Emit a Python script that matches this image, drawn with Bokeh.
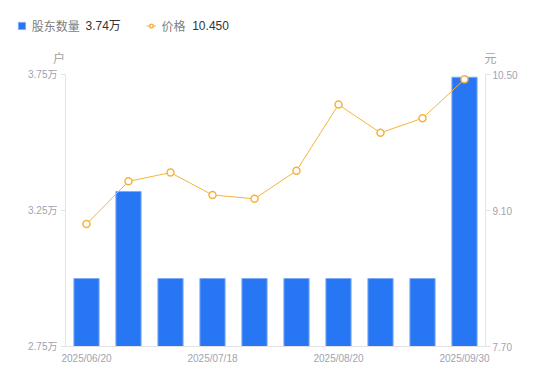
from bokeh.plotting import figure
from bokeh.models import (Range1d, LinearAxis, FixedTicker, Legend, LegendItem, Label, ColumnDataSource)
from bokeh.embed import file_html
from bokeh.resources import INLINE

# ---- data ----
holders = [3.00, 3.32, 3.00, 3.00, 3.00, 3.00, 3.00, 3.00, 3.00, 3.74]   # 万户
price = [8.96, 9.40, 9.49, 9.26, 9.22, 9.51, 10.19, 9.90, 10.05, 10.45]   # 元
x_tick_labels = ["2025/06/20", "2025/07/18", "2025/08/20", "2025/09/30"]
x_tick_index = [0, 3, 6, 9]
left_ticks = [2.75, 3.25, 3.75]
left_tick_labels = ["2.75万", "3.25万", "3.75万"]
right_ticks = [7.70, 9.10, 10.50]
right_tick_labels = ["7.70", "9.10", "10.50"]
legend_names = ["股东数量", "价格"]
legend_values = ["3.74万", "10.450"]
units = ["户", "元"]

FONT = "Liberation Sans, Noto Sans CJK SC"
TICK_COLOR = "#a0a3b0"
AXIS_COLOR = "#e3e3e6"
BAR_COLOR = "#2777f5"
LINE_COLOR = "#f6b33c"

n = len(holders)
idx = list(range(n))
src = ColumnDataSource(dict(x=idx, h=holders, p=price))

# canvas and plotting area (pixels)
W, H = 542, 373
PL, PR, PT, PB = 65, 485, 74, 346
xu = (PR - PL) / n                      # px per category
ly0, ly1 = left_ticks[0], left_ticks[-1]
ry0, ry1 = right_ticks[0], right_ticks[-1]
lpx = (PB - PT) / (ly1 - ly0)
rpx = (PB - PT) / (ry1 - ry0)

x_range = Range1d(-0.5 - PL / xu, n - 0.5 + (W - PR) / xu)
y_range = Range1d(ly0 - (H - PB) / lpx, ly1 + PT / lpx)
p = figure(width=W, height=H, min_border=0, x_range=x_range, y_range=y_range,
           output_backend="svg", toolbar_location=None, x_axis_location=None, y_axis_location=None)
p.outline_line_color = None
p.xgrid.visible = False
p.ygrid.visible = False
p.extra_y_ranges = {"price": Range1d(ry0 - (H - PB) / rpx, ry1 + PT / rpx)}

bars = p.vbar(x="x", top="h", bottom=ly0, width=0.6, source=src,
              fill_color=BAR_COLOR, line_color="#7fabf8", line_width=1)
line = p.line(x="x", y="p", source=src, y_range_name="price", line_color=LINE_COLOR, line_width=1)
pts = p.scatter(x="x", y="p", source=src, y_range_name="price", size=7, marker="circle",
                fill_color="white", line_color=LINE_COLOR, line_width=1.5)

def style(ax):
    ax.axis_line_color = AXIS_COLOR
    ax.major_tick_line_color = AXIS_COLOR
    ax.minor_tick_line_color = None
    ax.major_label_text_font = FONT
    ax.major_label_text_font_size = "10px"
    ax.major_label_text_color = TICK_COLOR

left = LinearAxis(ticker=FixedTicker(ticks=left_ticks), fixed_location=-0.5, bounds=(ly0, ly1),
                  major_label_overrides={t: l for t, l in zip(left_ticks, left_tick_labels)})
style(left)
left.major_tick_out = 5
left.major_tick_in = 0
left.major_label_standoff = 3
p.add_layout(left, "left")

right = LinearAxis(y_range_name="price", ticker=FixedTicker(ticks=right_ticks),
                   fixed_location=n - 0.5, bounds=(ry0, ry1),
                   major_label_overrides={t: l for t, l in zip(right_ticks, right_tick_labels)})
style(right)
right.major_tick_out = 5
right.major_tick_in = 0
right.major_label_standoff = 2
p.add_layout(right, "right")

bottom = LinearAxis(ticker=FixedTicker(ticks=x_tick_index), fixed_location=ly0, bounds=(-0.5, n - 0.5),
                    major_label_overrides={t: l for t, l in zip(x_tick_index, x_tick_labels)})
style(bottom)
bottom.major_tick_out = 0
bottom.major_tick_in = 0
bottom.major_tick_line_color = None
bottom.major_label_standoff = 6
p.add_layout(bottom, "below")

# helpers: page pixel -> data coords (left y range)
def dx(px):
    return (px - PL) / xu - 0.5
def dy(py):
    return ly0 + (PB - py) / lpx

# units
for txt, px in ((units[0], 58.5), (units[1], 490)):
    p.add_layout(Label(x=dx(px), y=dy(58), text=txt,
                       text_font=FONT, text_font_size="12px", text_color="#a3a3a3",
                       text_align="center", text_baseline="middle"))

# legends (location = bottom-left corner, screen px from canvas bottom-left)
def make_legend(item_renderers, name, page_x, gw):
    lg = Legend(items=[LegendItem(label=name, renderers=item_renderers)],
                location=(page_x, H - 34), orientation="horizontal",
                glyph_width=gw, glyph_height=9, label_height=9, label_standoff=6,
                padding=0, margin=0, border_line_color=None, background_fill_alpha=0,
                label_text_font=FONT, label_text_font_size="12px", label_text_color="#808080")
    p.add_layout(lg, "center")

make_legend([bars], legend_names[0], 16.7, 9)
make_legend([line, pts], legend_names[1], 145.5, 10)

for txt, px in ((legend_values[0], 85), (legend_values[1], 191.7)):
    p.add_layout(Label(x=dx(px), y=dy(25), text=txt,
                       text_font=FONT, text_font_size="12px", text_color="#333333",
                       text_align="left", text_baseline="middle"))

open("out.html", "w").write(file_html(p, INLINE))
